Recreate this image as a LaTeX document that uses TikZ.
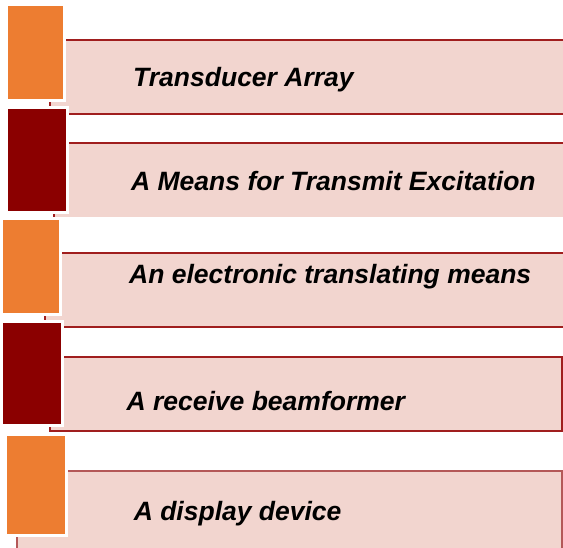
\documentclass[tikz,border=0pt]{standalone}
\usepackage{fontspec}
\setmainfont{Liberation Sans}
\definecolor{panelfill}{HTML}{F2D5CF}
\definecolor{panelline}{HTML}{A01E1E}
\definecolor{panelsoft}{HTML}{B45858}
\definecolor{accentorange}{HTML}{ED7D31}
\definecolor{accentmaroon}{HTML}{8B0000}
\tikzset{
  panel/.style={fill=panelfill, draw=panelline, line width=1.4pt},
  blockbox/.style={draw=white, line width=3pt},
  lbl/.style={anchor=base west, inner sep=0pt,
    font=\fontsize{26.5}{30}\selectfont\bfseries\itshape}
}
\begin{document}
\begin{tikzpicture}[x=1pt,y=-1pt]
\useasboundingbox (0,0) rectangle (563,548);
\clip (0,0) rectangle (563,548);

% panels behind the coloured blocks
\path[panel] (50,40) rectangle (600,114);
\fill[panelfill] (54,143) rectangle (600,217);
\draw[draw=panelline, line width=1.4pt] (54,217) -- (54,143) -- (600,143);
\path[panel] (45,253) rectangle (600,327);
\path[panel] (50,357) rectangle (562,431);
\path[panel, draw=panelsoft, line width=1.8pt] (17,471) rectangle (562,600);

% coloured blocks with a white rim
\path[blockbox, fill=accentorange] (6.5,4.5) rectangle (64.8,101);
\path[blockbox, fill=accentmaroon] (6.5,107.8) rectangle (67.5,212.5);
\path[blockbox, fill=accentorange] (1.8,218.5) rectangle (60.5,314.2);
\path[blockbox, fill=accentmaroon] (1.8,321.2) rectangle (62.5,425.8);
\path[blockbox, fill=accentorange] (5.2,434.2) rectangle (66.5,535.5);

% labels
\node[lbl] (t1) at (133,87) {Transducer Array};
\node[lbl] (t2) at (131,190.7) {A Means for Transmit Excitation};
\node[lbl] (t3) at (129,284) {An electronic translating means};
\node[lbl] (t4) at (126.4,410.7) {A receive beamformer};
\node[lbl] (t5) at (133.6,520.7) {A display device};
\end{tikzpicture}
\end{document}
